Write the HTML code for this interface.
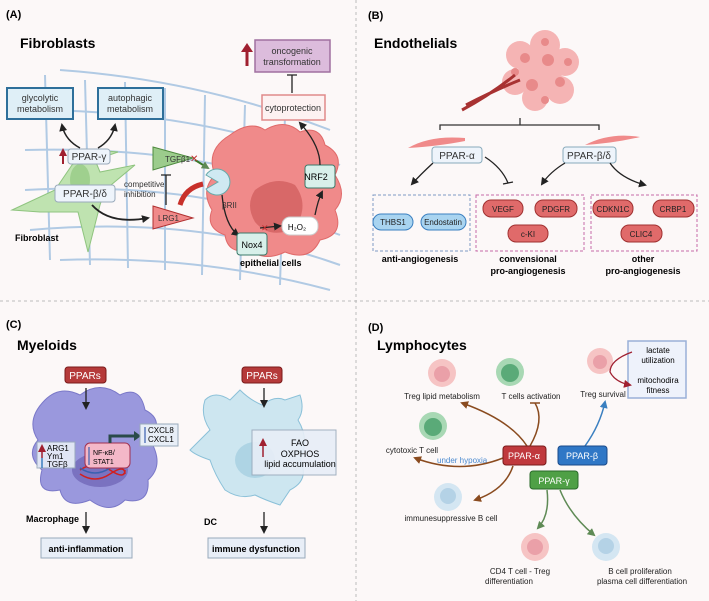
<!DOCTYPE html>
<html><head><meta charset="utf-8"><style>
body{margin:0;background:#fcf8f8}
svg{display:block;font-family:"Liberation Sans",sans-serif}
</style></head><body>
<svg width="709" height="601" viewBox="0 0 709 601" xmlns="http://www.w3.org/2000/svg">
<defs>
<marker id="ak" markerWidth="8" markerHeight="8" refX="6" refY="4" orient="auto" markerUnits="userSpaceOnUse"><path d="M0,0 L8,4 L0,8 z" fill="#222"/></marker>
<marker id="ab" markerWidth="8" markerHeight="8" refX="6" refY="4" orient="auto" markerUnits="userSpaceOnUse"><path d="M0,0 L8,4 L0,8 z" fill="#8a4b1f"/></marker>
<marker id="ag" markerWidth="8" markerHeight="8" refX="6" refY="4" orient="auto" markerUnits="userSpaceOnUse"><path d="M0,0 L8,4 L0,8 z" fill="#5e8a55"/></marker>
<marker id="abl" markerWidth="8" markerHeight="8" refX="6" refY="4" orient="auto" markerUnits="userSpaceOnUse"><path d="M0,0 L8,4 L0,8 z" fill="#3a7fc0"/></marker>
<marker id="ar" markerWidth="8" markerHeight="8" refX="6" refY="4" orient="auto" markerUnits="userSpaceOnUse"><path d="M0,0 L8,4 L0,8 z" fill="#a02030"/></marker>
</defs>
<rect width="709" height="601" fill="#fcf8f8"/>
<line x1="356" y1="0" x2="356" y2="601" stroke="#bbb" stroke-dasharray="3,3"/>
<line x1="0" y1="301" x2="709" y2="301" stroke="#bbb" stroke-dasharray="3,3"/>

<!-- PANEL A -->
<text x="6" y="18" font-size="11" font-weight="bold">(A)</text>
<text x="20" y="48" font-size="14" font-weight="bold">Fibroblasts</text>
<g stroke="#a9c6e2" stroke-width="2" fill="none" opacity="0.9">
<path d="M60,70 Q200,80 330,130"/><path d="M30,110 Q200,110 340,165"/><path d="M25,150 Q200,145 340,200"/>
<path d="M25,190 Q200,180 340,235"/><path d="M30,230 Q200,215 340,265"/><path d="M60,260 Q200,255 330,290"/>
<path d="M45,75 L50,260"/><path d="M85,80 L90,265"/><path d="M125,82 L128,268"/><path d="M165,88 L165,270"/><path d="M205,95 L202,275"/><path d="M245,105 L240,280"/><path d="M285,115 L280,285"/>
</g>
<path d="M12,210 L55,190 L72,165 L95,150 L118,152 L95,160 L100,172 L135,165 L105,190 L100,205 L88,252 L78,212 L40,212 Z" fill="#bfe3b0" stroke="#8fc47f"/>
<ellipse cx="80" cy="180" rx="10" ry="16" fill="#9fd08e"/>
<rect x="7" y="88" width="66" height="31" fill="#dfeff7" stroke="#2e6f9a" stroke-width="2"/>
<text x="40" y="101" font-size="9" text-anchor="middle" fill="#333">glycolytic</text><text x="40" y="112" font-size="9" text-anchor="middle" fill="#333">metabolism</text>
<rect x="98" y="88" width="65" height="31" fill="#dfeff7" stroke="#2e6f9a" stroke-width="2"/>
<text x="130" y="101" font-size="9" text-anchor="middle" fill="#333">autophagic</text><text x="130" y="112" font-size="9" text-anchor="middle" fill="#333">metabolism</text>
<path d="M80,148 Q65,140 62,125" stroke="#222" stroke-width="1.5" fill="none" marker-end="url(#ak)"/>
<path d="M98,148 Q112,140 115,125" stroke="#222" stroke-width="1.5" fill="none" marker-end="url(#ak)"/>
<rect x="68" y="149" width="42" height="15" rx="3" fill="#eef4fb" stroke="#9ab"/>
<text x="89" y="160" font-size="10" text-anchor="middle" fill="#333">PPAR-γ</text>
<path d="M63,164 L63,150" stroke="#a02030" stroke-width="2" marker-end="url(#ar)"/>
<rect x="55" y="185" width="60" height="17" rx="3" fill="#eef4fb" stroke="#9ab"/>
<text x="85" y="197" font-size="10" text-anchor="middle" fill="#333">PPAR-β/δ</text>
<text x="15" y="241" font-size="9" font-weight="bold">Fibroblast</text>
<path d="M92,205 Q110,225 148,218" stroke="#222" stroke-width="1.8" fill="none" marker-end="url(#ak)"/>
<text x="124" y="187" font-size="8" fill="#333">competitive</text><text x="124" y="197" font-size="8" fill="#333">inhibition</text>
<path d="M166,205 L166,175 M161,175 L171,175" stroke="#222" stroke-width="1.3"/>
<path d="M230,135 Q250,120 265,130 Q285,118 300,132 Q320,125 325,145 Q345,155 335,175 Q348,195 335,210 Q345,235 320,240 Q310,262 285,252 Q265,262 250,250 Q228,255 225,235 Q205,228 212,210 Q200,190 215,175 Q205,150 230,135 Z" fill="#f08a8a" stroke="#e06a6a"/>
<path d="M255,190 Q275,175 295,185 Q310,205 295,228 Q270,240 255,222 Q245,205 255,190Z" fill="#d86868"/>
<path d="M153,147 L193,158 L153,170 Z" fill="#9ccc8c" stroke="#4e8a3e"/>
<text x="165" y="162" font-size="8" fill="#333">TGFβ1</text>
<path d="M153,206 L193,218 L153,229 Z" fill="#f08a8a" stroke="#b03030"/>
<text x="158" y="221" font-size="8" fill="#333">LRG1</text>
<path d="M195,160 L208,168" stroke="#3a7a2a" stroke-width="2" marker-end="url(#ag)"/>
<text x="190" y="162" font-size="10" fill="#c03030">✕</text>
<path d="M180,205 Q185,188 203,184" stroke="#c8302a" stroke-width="5" fill="none"/>
<path d="M218,182 L206,175 A13,13 0 1,1 206,189 Z" fill="#cfe9f2" stroke="#6aa"/>
<text x="222" y="208" font-size="8" fill="#333">βRII</text>
<path d="M222,195 Q225,225 238,235" stroke="#222" stroke-width="1.3" fill="none" marker-end="url(#ak)"/>
<rect x="237" y="233" width="30" height="22" rx="3" fill="#d8f0ea" stroke="#3a7a6a"/>
<text x="252" y="248" font-size="9" text-anchor="middle">Nox4</text>
<path d="M260,228 L280,226" stroke="#222" stroke-width="1.3" marker-end="url(#ak)"/>
<text x="261" y="231" font-size="9" fill="#c03030">✕</text>
<rect x="282" y="217" width="36" height="18" rx="8" fill="#fff" stroke="#ccc"/>
<text x="297" y="230" font-size="8" text-anchor="middle">H₂O₂</text>
<path d="M315,215 Q318,200 322,192" stroke="#222" stroke-width="1.3" fill="none" marker-end="url(#ak)"/>
<rect x="305" y="165" width="30" height="23" rx="3" fill="#d8f0ea" stroke="#3a7a6a"/>
<text x="316" y="180" font-size="9" text-anchor="middle">NRF2</text>
<path d="M320,165 Q320,145 300,123" stroke="#222" stroke-width="1.3" fill="none" marker-end="url(#ak)"/>
<text x="240" y="266" font-size="9" font-weight="bold">epithelial cells</text>
<rect x="262" y="95" width="63" height="25" fill="#fdf2f2" stroke="#e08a8a" stroke-width="1.5"/>
<text x="293" y="111" font-size="9" text-anchor="middle" fill="#333">cytoprotection</text>
<path d="M292,93 L292,75 M287,75 L297,75" stroke="#222" stroke-width="1.3"/>
<rect x="255" y="40" width="75" height="32" fill="#dcbcdc" stroke="#a070a0" stroke-width="1.5"/>
<text x="292" y="54" font-size="9" text-anchor="middle" fill="#333">oncogenic</text><text x="292" y="65" font-size="9" text-anchor="middle" fill="#333">transformation</text>
<path d="M247,66 L247,50" stroke="#a02030" stroke-width="3"/><path d="M241,52 L247,43 L253,52z" fill="#a02030"/>

<!-- PANEL B -->
<text x="368" y="19" font-size="11" font-weight="bold">(B)</text>
<text x="374" y="48" font-size="14" font-weight="bold">Endothelials</text>
<g fill="#f5b4b4"><circle cx="520" cy="55" r="14"/><circle cx="545" cy="45" r="15"/><circle cx="565" cy="62" r="14"/><circle cx="560" cy="90" r="14"/><circle cx="535" cy="98" r="13"/><circle cx="515" cy="82" r="13"/><circle cx="540" cy="72" r="22"/></g>
<g fill="#e88a8a"><circle cx="525" cy="58" r="5"/><circle cx="548" cy="60" r="6"/><circle cx="560" cy="82" r="5"/><circle cx="532" cy="85" r="6"/><circle cx="545" cy="42" r="4"/><circle cx="515" cy="72" r="4"/><circle cx="568" cy="62" r="4"/><circle cx="545" cy="100" r="4"/></g>
<path d="M462,110 Q490,95 515,75 M466,105 Q495,90 520,80" stroke="#a83232" stroke-width="3" fill="none"/>
<path d="M440,130 L440,125 L599,125 L599,130 M520,125 L520,118" stroke="#333" stroke-width="1.3" fill="none"/>
<path d="M408,148 Q430,135 465,138 L465,141 Q440,146 408,148Z" fill="#f08a8a"/>
<path d="M585,145 Q610,132 640,137 Q615,143 585,145Z" fill="#f08a8a"/>
<rect x="432" y="147" width="50" height="16" rx="3" fill="#eef4fb" stroke="#8ab"/>
<text x="457" y="159" font-size="10" text-anchor="middle" fill="#333">PPAR-α</text>
<rect x="563" y="147" width="53" height="16" rx="3" fill="#eef4fb" stroke="#8ab"/>
<text x="589" y="159" font-size="10" text-anchor="middle" fill="#333">PPAR-β/δ</text>
<path d="M433,163 Q420,175 412,184" stroke="#222" stroke-width="1.3" fill="none" marker-end="url(#ak)"/>
<path d="M485,157 Q502,168 508,183 M503,184 L513,182" stroke="#222" stroke-width="1.3" fill="none"/>
<path d="M565,163 Q550,172 542,184" stroke="#222" stroke-width="1.3" fill="none" marker-end="url(#ak)"/>
<path d="M610,163 Q620,178 645,185" stroke="#222" stroke-width="1.3" fill="none" marker-end="url(#ak)"/>
<rect x="373" y="195" width="97" height="56" fill="none" stroke="#7e9ac4" stroke-dasharray="3,2"/>
<rect x="476" y="195" width="108" height="56" fill="none" stroke="#c66aa8" stroke-dasharray="3,2"/>
<rect x="591" y="195" width="106" height="56" fill="none" stroke="#c66aa8" stroke-dasharray="3,2"/>
<g font-size="8" text-anchor="middle" fill="#222">
<rect x="373" y="214" width="40" height="16" rx="8" fill="#a9d4f0" stroke="#3a7fc0"/><text x="393" y="225">THBS1</text>
<rect x="421" y="214" width="45" height="16" rx="8" fill="#a9d4f0" stroke="#3a7fc0"/><text x="443" y="225">Endostatin</text>
<rect x="483" y="200" width="40" height="17" rx="8" fill="#e06a6a" stroke="#a03030"/><text x="503" y="212">VEGF</text>
<rect x="535" y="200" width="42" height="17" rx="8" fill="#e06a6a" stroke="#a03030"/><text x="556" y="212">PDGFR</text>
<rect x="508" y="225" width="40" height="17" rx="8" fill="#e06a6a" stroke="#a03030"/><text x="528" y="237">c-KI</text>
<rect x="593" y="200" width="40" height="17" rx="8" fill="#e06a6a" stroke="#a03030"/><text x="613" y="212">CDKN1C</text>
<rect x="653" y="200" width="41" height="17" rx="8" fill="#e06a6a" stroke="#a03030"/><text x="673" y="212">CRBP1</text>
<rect x="621" y="225" width="41" height="17" rx="8" fill="#e06a6a" stroke="#a03030"/><text x="641" y="237">CLIC4</text>
</g>
<g font-size="9" font-weight="bold" text-anchor="middle">
<text x="420" y="262">anti-angiogenesis</text>
<text x="528" y="262">convensional</text><text x="528" y="274">pro-angiogenesis</text>
<text x="643" y="262">other</text><text x="643" y="274">pro-angiogenesis</text>
</g>

<!-- PANEL C -->
<text x="6" y="328" font-size="11" font-weight="bold">(C)</text>
<text x="17" y="350" font-size="14" font-weight="bold">Myeloids</text>
<path d="M45,400 Q60,385 80,395 Q100,380 120,395 Q140,385 145,410 Q165,420 150,440 Q165,465 148,480 Q150,505 125,500 Q110,515 90,500 Q65,510 60,490 Q35,495 42,470 Q25,455 38,440 Q25,420 45,400Z" fill="#9a98dd" stroke="#7a78c8"/>
<ellipse cx="100" cy="470" rx="28" ry="17" fill="#7a72c0"/>
<path d="M80,470 Q95,460 110,470 T125,470 M80,474 Q95,484 110,474 T125,474" stroke="#d02020" stroke-width="1.5" fill="none"/>
<path d="M80,468 Q95,478 110,468 T125,468" stroke="#3a60b0" stroke-width="1.5" fill="none"/>
<rect x="65" y="367" width="41" height="16" rx="3" fill="#b53a3a" stroke="#7a1a1a"/>
<text x="85" y="379" font-size="10" text-anchor="middle" fill="#fff">PPARs</text>
<path d="M86,388 L86,408" stroke="#222" stroke-width="1.3" marker-end="url(#ak)"/>
<rect x="37" y="442" width="38" height="26" fill="#e8eef7" stroke="#9ab" opacity="0.9"/>
<text x="47" y="451" font-size="8">ARG1</text><text x="47" y="459" font-size="8">Ym1</text><text x="47" y="467" font-size="8">TGFβ</text>
<path d="M42,458 L42,446" stroke="#a02030" stroke-width="1.5" marker-end="url(#ar)"/>
<path d="M42,458 L42,468" stroke="#3a7fc0" stroke-width="1.5"/>
<rect x="85" y="443" width="45" height="25" rx="5" fill="#f4b8c8" stroke="#a03050"/>
<text x="93" y="455" font-size="7">NF-κB/</text><text x="93" y="464" font-size="7">STAT1</text>
<path d="M89,447 L89,465" stroke="#3a60b0" stroke-width="1.2"/>
<path d="M110,443 L110,436 L136,436" stroke="#2a4a4a" stroke-width="3" fill="none"/><path d="M134,431 L141,436 L134,441z" fill="#2a4a4a"/>
<rect x="140" y="424" width="38" height="22" fill="#e8eef7" stroke="#9ab"/>
<text x="148" y="433" font-size="8">CXCL8</text><text x="148" y="442" font-size="8">CXCL1</text>
<path d="M145,427 L145,443" stroke="#3a60b0" stroke-width="1.2"/>
<text x="26" y="522" font-size="9" font-weight="bold">Macrophage</text>
<path d="M86,512 L86,532" stroke="#222" stroke-width="1.3" marker-end="url(#ak)"/>
<rect x="41" y="538" width="91" height="20" fill="#e8eef7" stroke="#9ab"/>
<text x="86" y="552" font-size="9" font-weight="bold" text-anchor="middle">anti-inflammation</text>
<path d="M205,400 Q215,390 230,400 L240,390 Q250,400 262,405 Q275,395 285,400 L300,395 Q305,410 298,420 Q310,440 300,460 Q310,480 290,490 L280,505 Q265,500 255,495 Q240,500 225,490 Q215,475 210,460 Q195,455 190,450 Q200,440 210,430 Q200,415 205,400Z" fill="#cde6f0" stroke="#8ac0d8"/>
<ellipse cx="255" cy="460" rx="20" ry="18" fill="#aed4e4"/>
<rect x="242" y="367" width="40" height="16" rx="3" fill="#b53a3a" stroke="#7a1a1a"/>
<text x="262" y="379" font-size="10" text-anchor="middle" fill="#fff">PPARs</text>
<path d="M264,388 L264,406" stroke="#222" stroke-width="1.3" marker-end="url(#ak)"/>
<rect x="252" y="430" width="84" height="45" fill="#e8eef7" stroke="#9ab" opacity="0.9"/>
<text x="300" y="446" font-size="9" text-anchor="middle">FAO</text><text x="300" y="457" font-size="9" text-anchor="middle">OXPHOS</text><text x="300" y="467" font-size="9" text-anchor="middle">lipid accumulation</text>
<path d="M263,457 L263,440" stroke="#a02030" stroke-width="1.5" marker-end="url(#ar)"/>
<text x="204" y="525" font-size="9" font-weight="bold">DC</text>
<path d="M264,512 L264,532" stroke="#222" stroke-width="1.3" marker-end="url(#ak)"/>
<rect x="208" y="538" width="97" height="20" fill="#e8eef7" stroke="#9ab"/>
<text x="256" y="552" font-size="9" font-weight="bold" text-anchor="middle">immune dysfunction</text>

<!-- PANEL D -->
<text x="368" y="331" font-size="11" font-weight="bold">(D)</text>
<text x="377" y="350" font-size="14" font-weight="bold">Lymphocytes</text>
<g>
<circle cx="442" cy="373" r="14" fill="#f6c4c4"/><circle cx="442" cy="374" r="8" fill="#eaa0a8"/>
<circle cx="510" cy="372" r="14" fill="#a8d8b4"/><circle cx="510" cy="373" r="9" fill="#5aaa78"/>
<circle cx="600" cy="361" r="13" fill="#f6c4c4"/><circle cx="600" cy="362" r="7" fill="#eaa0a8"/>
<circle cx="433" cy="426" r="14" fill="#a8d8b4"/><circle cx="433" cy="427" r="9" fill="#5aaa78"/>
<circle cx="448" cy="497" r="14" fill="#d4e6f2"/><circle cx="448" cy="496" r="8" fill="#b4d2e6"/>
<circle cx="535" cy="547" r="14" fill="#f6c4c4"/><circle cx="535" cy="547" r="8" fill="#eaa0a8"/>
<circle cx="606" cy="547" r="14" fill="#d4e6f2"/><circle cx="606" cy="546" r="8" fill="#b4d2e6"/>
</g>
<g font-size="8" fill="#222" text-anchor="middle">
<text x="442" y="399">Treg lipid metabolism</text>
<text x="531" y="399">T cells activation</text>
<text x="603" y="397">Treg survival</text>
<text x="412" y="453">cytotoxic T cell</text>
<text x="451" y="521">immunesuppressive B cell</text>
<text x="520" y="574">CD4 T cell - Treg</text><text x="509" y="584" >differentiation</text>
<text x="640" y="574">B cell proliferation</text><text x="642" y="584">plasma cell differentiation</text>
</g>
<text x="437" y="463" font-size="8" fill="#4a8ad0">under hypoxia</text>
<rect x="628" y="341" width="58" height="57" fill="#eef2fb" stroke="#9ab0d8" stroke-width="1.5"/>
<text x="658" y="353" font-size="8" text-anchor="middle">lactate</text><text x="658" y="363" font-size="8" text-anchor="middle">utilization</text>
<text x="658" y="383" font-size="8" text-anchor="middle">mitochodira</text><text x="658" y="393" font-size="8" text-anchor="middle">fitness</text>
<path d="M632,352 Q610,360 610,372 Q615,382 630,385" stroke="#a02030" stroke-width="1.3" fill="none" marker-end="url(#ar)"/>
<path d="M527,446 Q510,420 462,403" stroke="#8a4b1f" stroke-width="1.5" fill="none" marker-end="url(#ab)"/>
<path d="M530,446 Q545,420 535,403 M530,403 L540,403" stroke="#8a4b1f" stroke-width="1.5" fill="none"/>
<path d="M503,458 Q460,475 415,458" stroke="#8a4b1f" stroke-width="1.5" fill="none" marker-end="url(#ab)"/>
<path d="M513,466 Q505,490 475,500" stroke="#8a4b1f" stroke-width="1.5" fill="none" marker-end="url(#ab)"/>
<path d="M585,446 Q600,425 605,402" stroke="#3a7fc0" stroke-width="1.5" fill="none" marker-end="url(#abl)"/>
<path d="M547,490 Q550,515 538,528" stroke="#5e8a55" stroke-width="1.5" fill="none" marker-end="url(#ag)"/>
<path d="M560,490 Q570,515 594,535" stroke="#5e8a55" stroke-width="1.5" fill="none" marker-end="url(#ag)"/>
<rect x="503" y="446" width="43" height="19" rx="3" fill="#c0393d" stroke="#7a1a1a"/>
<text x="524" y="459" font-size="9" text-anchor="middle" fill="#fff">PPAR-α</text>
<rect x="558" y="446" width="49" height="19" rx="3" fill="#2f77c6" stroke="#1a4a8a"/>
<text x="582" y="459" font-size="9" text-anchor="middle" fill="#fff">PPAR-β</text>
<rect x="530" y="471" width="48" height="18" rx="3" fill="#4fa046" stroke="#2a6a2a"/>
<text x="554" y="484" font-size="9" text-anchor="middle" fill="#fff">PPAR-γ</text>
</svg>
</body></html>
